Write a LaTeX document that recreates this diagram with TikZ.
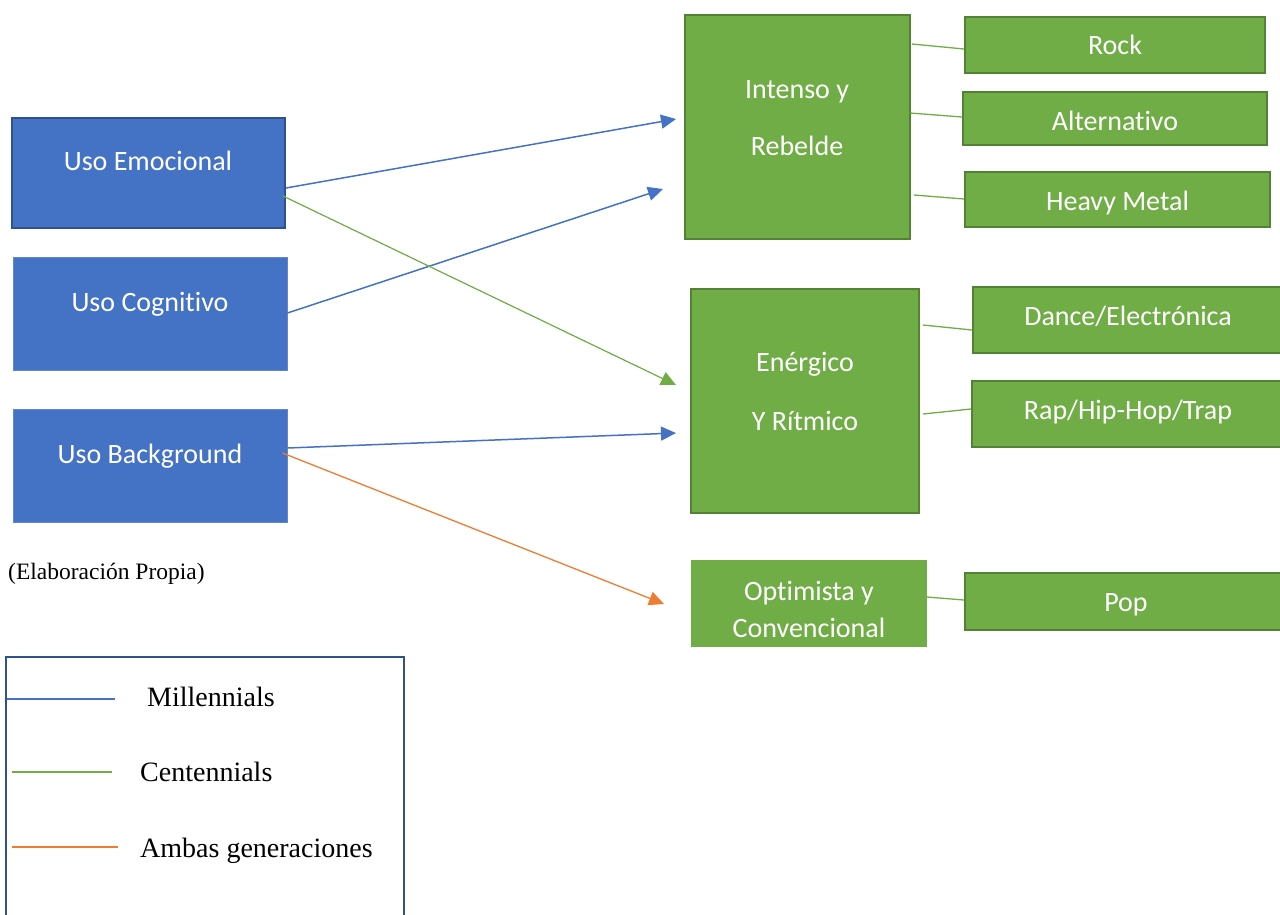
\documentclass[tikz,border=0pt]{standalone}
\usepackage{fontspec}
\setmainfont{Carlito}[Ligatures=NoCommon]
\newfontfamily\tnr{Liberation Serif}
\usetikzlibrary{arrows.meta}
\definecolor{bfill}{HTML}{4472C4}
\definecolor{bdraw}{HTML}{2F528F}
\definecolor{gfill}{HTML}{70AD47}
\definecolor{gdraw}{HTML}{548235}
\definecolor{ora}{HTML}{ED7D31}
\begin{document}
\begin{tikzpicture}[x=1pt,y=-1pt,
  bbox/.style={rectangle, fill=bfill, draw=bfill!85!white, line width=1pt, inner sep=0pt},
  gbox/.style={rectangle, fill=gfill, draw=gdraw, line width=2pt, inner sep=0pt},
  wtxt/.style={text=white, align=center, inner sep=0pt, text height=18pt, text depth=0pt,
    font=\fontsize{28}{34}\selectfont},
  mtxt/.style={text=white, align=center, inner sep=0pt},
  link/.style={draw=gfill, line width=1.3pt},
  arr/.style={line width=1.5pt, -{Triangle[length=15pt,width=14pt]}},
  legtxt/.style={anchor=west, inner sep=0pt, text height=19pt, text depth=0pt,
    font=\tnr\fontsize{28}{34}\selectfont}]
\useasboundingbox (0,0) rectangle (1280,914);
\fill[white] (0,0) rectangle (1280,914);

% blue boxes
\node[bbox, draw=bdraw, line width=2pt, minimum width=273, minimum height=110] (emo) at (148.5,173) {};
\node[bbox, minimum width=274, minimum height=113] (cog) at (150,313.5) {};
\node[bbox, minimum width=274, minimum height=113] (bg) at (150,465.5) {};
\node[wtxt] (emot) at (148,161) {Uso Emocional};
\node[wtxt] (cogt) at (150,302) {Uso Cognitivo};
\node[wtxt] (bgt) at (150,454) {Uso Background};

% green group boxes
\node[gbox, minimum width=225, minimum height=224] (int) at (797.5,127) {};
\node[gbox, minimum width=228, minimum height=224] (ene) at (805,401) {};
\node[gbox, draw=gfill, minimum width=234, minimum height=85] (opt) at (809,603.5) {};
\node[mtxt, font=\fontsize{28}{57}\selectfont] (intt) at (797,118.5) {Intenso y\\Rebelde};
\node[mtxt, font=\fontsize{28}{59}\selectfont] (enet) at (805,391) {Enérgico\\Y Rítmico};
\node[mtxt, font=\fontsize{28}{37}\selectfont] (optt) at (809,609) {Optimista y\\Convencional};

% subgenre boxes
\node[gbox, minimum width=300, minimum height=56] (rock) at (1115,45) {};
\node[wtxt] (rockt) at (1115,45) {Rock};
\node[gbox, minimum width=304, minimum height=53] (alt) at (1115,118.5) {};
\node[wtxt] (altt) at (1115,121) {Alternativo};
\node[gbox, minimum width=305, minimum height=55] (heavy) at (1117.5,199.5) {};
\node[wtxt] (heavyt) at (1117.5,201) {Heavy Metal};
\node[gbox, minimum width=311, minimum height=66] (dance) at (1128.5,320) {};
\node[wtxt] (dancet) at (1128,316) {Dance/Electrónica};
\node[gbox, minimum width=312, minimum height=66] (rap) at (1128,414) {};
\node[wtxt] (rapt) at (1128,410) {Rap/Hip-Hop/Trap};
\node[gbox, minimum width=319, minimum height=57] (pop) at (1124.5,601.5) {};
\node[wtxt] (popt) at (1126,602) {Pop};

% group -> subgenre links
\coordinate (l1) at (912,44);  \draw[link] (l1) -- (rock.west |- 0,49);
\coordinate (l2) at (910,113); \draw[link] (l2) -- (alt.west |- 0,117);
\coordinate (l3) at (914,195); \draw[link] (l3) -- (heavy.west |- 0,199);
\coordinate (l4) at (923,325); \draw[link] (l4) -- (dance.west |- 0,330);
\coordinate (l5) at (923,414); \draw[link] (l5) -- (rap.west |- 0,409);
\coordinate (l6) at (927,597); \draw[link] (l6) -- (pop.west |- 0,600);

% usage -> group arrows
\coordinate (e1) at (676,119);
\coordinate (e2) at (663,189);
\coordinate (e3) at (676,385);
\coordinate (e4) at (676,433);
\coordinate (e5) at (664,604);
\draw[arr, draw=bfill, fill=bfill] (emo.east |- 0,188) -- (e1);
\draw[arr, draw=bfill, fill=bfill] (cog.east |- 0,313) -- (e2);
\draw[arr, draw=gfill, fill=gfill, line width=1.2pt] ([xshift=-3]emo.east |- 0,196) -- (e3);
\draw[arr, draw=bfill, fill=bfill] (bg.east |- 0,448) -- (e4);
\draw[arr, draw=ora, fill=ora, line width=1.3pt] ([xshift=-5]bg.east |- 0,453) -- (e5);

% source note
\node[anchor=west, inner sep=0pt, font=\tnr\fontsize{23.5}{28}\selectfont] (src) at (8,574) {(Elaboración Propia)};

% legend
\draw[draw=bdraw, line width=2pt] (6,930) -- (6,657) -- (404,657) -- (404,930);
\coordinate (m1) at (7,699);   \coordinate (m2) at (115,699);
\coordinate (c1) at (12,772);  \coordinate (c2) at (112,772);
\coordinate (a1) at (12,847);  \coordinate (a2) at (118,847);
\draw[bfill, line width=2.5pt] (m1) -- (m2);
\draw[gfill, line width=2pt] (c1) -- (c2);
\draw[ora, line width=2pt] (a1) -- (a2);
\node[legtxt] (mt) at (147,697) {Millennials};
\node[legtxt] (ct) at (140,772) {Centennials};
\node[legtxt] (at) at (140,848) {Ambas generaciones};
\end{tikzpicture}
\end{document}
